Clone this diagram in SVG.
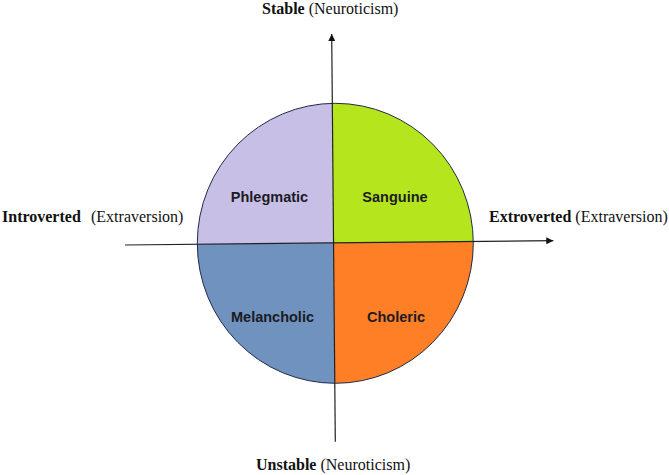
<svg xmlns="http://www.w3.org/2000/svg" width="669" height="475" viewBox="0 0 669 475">
  <style>
    .lbl { font-family: "Liberation Serif", "Times New Roman", serif; font-size: 16px; fill: #111; }
    .b { font-weight: bold; }
    .q { font-family: "Liberation Sans", Arial, sans-serif; font-size: 14.5px; font-weight: bold; fill: #1b1b24; text-anchor: middle; }
    .axis { stroke: #222; stroke-width: 1.2; fill: none; }
  </style>
  <defs>
    <clipPath id="circ">
      <ellipse cx="335.3" cy="243.3" rx="138" ry="140"/>
    </clipPath>
    <marker id="arr" viewBox="0 0 10 10" refX="10" refY="5" markerWidth="8" markerHeight="7" markerUnits="userSpaceOnUse" orient="auto">
      <path d="M0,0 L10,5 L0,10 Z" fill="#111"/>
    </marker>
  </defs>
  <rect width="669" height="475" fill="#ffffff"/>

  <g id="phlegmatic">
    <polygon clip-path="url(#circ)" points="180,90 332.2,90 333.5,243 180,244.4" fill="#C8BFE7"/>
    <text class="q" x="269.5" y="202">Phlegmatic</text>
  </g>
  <g id="sanguine">
    <polygon clip-path="url(#circ)" points="332.2,90 490,90 490,241.3 333.5,243" fill="#B5E61D"/>
    <text class="q" x="395" y="202">Sanguine</text>
  </g>
  <g id="melancholic">
    <polygon clip-path="url(#circ)" points="180,244.4 333.5,243 334.9,400 180,400" fill="#7092BE"/>
    <text class="q" x="272.5" y="322">Melancholic</text>
  </g>
  <g id="choleric">
    <polygon clip-path="url(#circ)" points="333.5,243 490,241.3 490,400 334.9,400" fill="#FF7F27"/>
    <text class="q" x="396" y="322">Choleric</text>
  </g>
  <ellipse id="outline" cx="335.3" cy="243.3" rx="138" ry="140" fill="none" stroke="#1f2a4a" stroke-width="1"/>

  <g id="connectors">
    <line class="axis" x1="335.3" y1="441.7" x2="331.7" y2="34" marker-end="url(#arr)"/>
    <line class="axis" x1="125" y1="245" x2="553.3" y2="240.7" marker-end="url(#arr)"/>
  </g>

  <g id="labels">
    <text class="lbl" x="262" y="13.5"><tspan class="b">Stable</tspan> (Neuroticism)</text>
    <text class="lbl" x="256" y="470"><tspan class="b">Unstable</tspan> (Neuroticism)</text>
    <text class="lbl b" x="2" y="222">Introverted</text>
    <text class="lbl" x="91" y="222">(Extraversion)</text>
    <text class="lbl" x="489" y="222"><tspan class="b">Extroverted</tspan> (Extraversion)</text>
  </g>
</svg>
